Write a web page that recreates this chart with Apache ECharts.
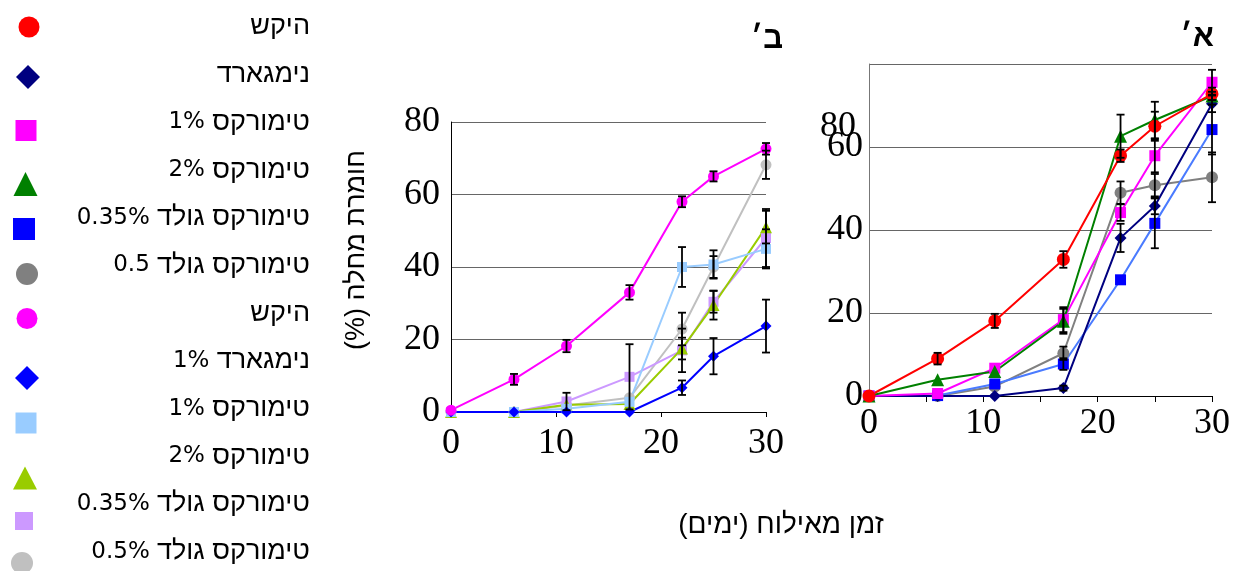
<!DOCTYPE html>
<html><head><meta charset="utf-8">
<script src="https://cdn.jsdelivr.net/npm/echarts@6/dist/echarts.min.js"></script>
<style>html,body{margin:0;padding:0;background:#fff}#c{width:1233px;height:571px}</style>
</head><body><div id="c"></div><script>
// ---------- DATA ----------
const days = [0, 6, 11, 17, 22, 25, 30];

// Chart א׳ (right)
const labelsA = ['היקש', 'נימגארד', 'טימורקס 1%', 'טימורקס 2%', 'טימורקס גולד 0.35%', 'טימורקס גולד 0.5'];
const aHekesh   = [0, 9, 18.1, 32.9, 57.9, 65, 72.8];
const aNimgard  = [0, 0, 0, 1.9, 38.1, 45.8, 70.4];
const aTimorex1 = [0, 0.6, 6.7, 18.4, 44.2, 57.9, 75.6];
const aTimorex2 = [0, 3.9, 5.9, 18, 62.6, 66.5, 72.3];
const aGold035  = [0, 0.1, 2.9, 7.7, 28, 41.6, 64.2];
const aGold05   = [0, 0, 2.3, 10.3, 49, 50.8, 52.7];
const aHekeshErr   = [0, 1.4, 1.7, 2, 1.5, 3.5, 1.5];
const aNimgardErr  = [0, 0, 0, 0.6, 3.4, 2, 2];
const aTimorex1Err = [0, 0, 0, 3, 2, 4, 3];
const aTimorex2Err = [0, 0, 0, 3, 5.2, 4.4, 1];
const aGold035Err  = [0, 0, 0, 1.4, 0, 6, 6];
const aGold05Err   = [0, 0, 0, 1.6, 2.7, 2.7, 6];

// Chart ב׳ (left)
const labelsB = ['היקש', 'נימגארד 1%', 'טימורקס 1%', 'טימורקס 2%', 'טימורקס גולד 0.35%', 'טימורקס גולד 0.5%'];
const bHekesh    = [0.5, 9, 18.2, 33, 58, 65, 72.6];
const bNimgard1  = [0, 0, 0, 0, 6.7, 15.4, 23.7];
const bTimorex1  = [0, 0, 0.9, 2.8, 40, 40.7, 45];
const bTimorex2  = [0, 0, 2, 2.2, 17.5, 29.5, 51];
const bGold035   = [0, 0, 2.9, 9.7, 17, 30.4, 48];
const bGold05    = [0, 0, 1.8, 3.9, 22.9, 40, 68.2];
const bHekeshErr   = [0, 1.5, 1.7, 2, 1.5, 1.4, 1.6];
const bNimgard1Err = [0, 0, 0, 0, 2, 5, 7.3];
const bTimorex1Err = [0, 0, 0, 0, 5.5, 3.9, 5.4];
const bTimorex2Err = [0, 0, 0, 0, 3, 4, 4.5];
const bGold035Err  = [0, 0, 2.4, 9, 6, 3, 8];
const bGold05Err   = [0, 0, 0, 0, 4.5, 3, 3.9];

const yTopLabelA = '80';

const axisTitleX = 'זמן מאילוח (ימים)';
const axisTitleY = 'חומרת מחלה (%)';
const titleA = 'א׳';
const titleB = 'ב׳';

// ---------- STYLE ----------
const valsA = [aHekesh, aNimgard, aTimorex1, aTimorex2, aGold035, aGold05];
const errsA = [aHekeshErr, aNimgardErr, aTimorex1Err, aTimorex2Err, aGold035Err, aGold05Err];
const valsB = [bHekesh, bNimgard1, bTimorex1, bTimorex2, bGold035, bGold05];
const errsB = [bHekeshErr, bNimgard1Err, bTimorex1Err, bTimorex2Err, bGold035Err, bGold05Err];

const markA = ['#FF0000', '#000080', '#FF00FF', '#008000', '#0000FF', '#808080'];
const lineA = ['#FF0000', '#000080', '#FF00FF', '#008000', '#4A7BFF', '#808080'];
const markB = ['#FF00FF', '#0000FF', '#99CCFF', '#99CC00', '#CC99FF', '#C0C0C0'];
const lineB = ['#FF00FF', '#0000FF', '#99CCFF', '#99CC00', '#CC99FF', '#C0C0C0'];
const symbols = ['circle', 'diamond', 'rect', 'triangle', 'rect', 'circle'];
const symSizeA = [13, 12, 11, 13, 11, 12];
const symSizeB = [11, 11, 10, 12, 10, 11];
const drawOrderA = [5, 4, 1, 2, 3, 0];
const drawOrderB = [5, 4, 3, 2, 1, 0];

const iconCenters = [[29,27],[28,77],[26,130.5],[25.5,184],[24,229],[27,274],[27,318.5],[27,378],[26,423],[25,478],[24,521],[22,563]];
const iconSizes = [[21,21],[24,24],[21,21],[24,24],[22,22],[22,22],[21,21],[24,24],[21,21],[24,23],[18,18],[22,22]];

const RLE = '\u202B', PDF = '\u202C';
const rtl = s => RLE + s + PDF;
const serif = '"Liberation Serif", "Times New Roman", serif';
const digitFont = '"DejaVu Sans", sans-serif';
const hebFont = '"Liberation Sans", "DejaVu Sans", sans-serif';

const ids = [], labelMap = {}, iconMap = {};
labelsA.forEach((l, i) => { const id = 'a' + i; ids.push(id); labelMap[id] = l; iconMap[id] = symbols[i]; });
labelsB.forEach((l, i) => { const id = 'b' + i; ids.push(id); labelMap[id] = l; iconMap[id] = symbols[i]; });

function legendRich(label) {
  const m = label.match(/^(.*?)\s+([\d.]+%?)$/);
  if (!m) return '{h|' + rtl(label) + '}';
  return '{n|' + m[2] + '}{s| }{h|' + rtl(m[1]) + '}';
}

const series = [];
function addLines(prefix, vals, marks, lines, sizes, order, gi) {
  order.forEach(i => {
    series.push({
      name: prefix + i, type: 'line', xAxisIndex: gi, yAxisIndex: gi,
      data: days.map((d, k) => [d, vals[i][k]]),
      symbol: symbols[i], symbolSize: sizes[i], showSymbol: true, clip: false,
      itemStyle: { color: marks[i], borderWidth: 0 },
      lineStyle: { color: lines[i], width: 2 },
      z: 2, silent: true, animation: false
    });
  });
}
addLines('a', valsA, markA, lineA, symSizeA, drawOrderA, 1);
addLines('b', valsB, markB, lineB, symSizeB, drawOrderB, 0);

function errData(vals, errs) {
  const out = [];
  vals.forEach((v, i) => days.forEach((d, k) => {
    if (errs[i][k] > 0) out.push([d, v[k] - errs[i][k], v[k] + errs[i][k]]);
  }));
  return out;
}
function renderErr(params, api) {
  const x = api.value(0);
  const p1 = api.coord([x, api.value(2)]);
  const p2 = api.coord([x, api.value(1)]);
  const c = 4, st = { stroke: '#000', lineWidth: 1.8 };
  return { type: 'group', children: [
    { type: 'line', shape: { x1: p1[0], y1: p1[1], x2: p2[0], y2: p2[1] }, style: st },
    { type: 'line', shape: { x1: p1[0] - c, y1: p1[1], x2: p1[0] + c, y2: p1[1] }, style: st },
    { type: 'line', shape: { x1: p2[0] - c, y1: p2[1], x2: p2[0] + c, y2: p2[1] }, style: st }
  ]};
}
series.push({ type: 'custom', xAxisIndex: 1, yAxisIndex: 1, renderItem: renderErr, data: errData(valsA, errsA), encode: { x: 0, y: [1, 2] }, z: 4, silent: true, animation: false });
series.push({ type: 'custom', xAxisIndex: 0, yAxisIndex: 0, renderItem: renderErr, data: errData(valsB, errsB), encode: { x: 0, y: [1, 2] }, z: 4, silent: true, animation: false });

const legends = [{
  orient: 'vertical', align: 'right', right: 918, top: 12, height: 900, padding: 0,
  itemWidth: 0, itemHeight: 30, itemGap: 17.7, selectedMode: false,
  icon: 'rect', itemStyle: { opacity: 0, borderWidth: 0, color: 'rgba(0,0,0,0)' },
  data: ids, formatter: id => legendRich(labelMap[id]),
  textStyle: { fontFamily: hebFont, fontSize: 27, color: '#000',
    rich: {
      n: { fontFamily: digitFont, fontSize: 23, color: '#000' },
      s: { fontFamily: digitFont, fontSize: 23, color: '#000' },
      h: { fontFamily: hebFont, fontSize: 27, color: '#000' }
    } }
}];
ids.forEach((id, i) => {
  const [cx, cy] = iconCenters[i], [w, h] = iconSizes[i];
  legends.push({
    left: cx - w / 2, top: cy - h / 2, padding: 0, itemWidth: w, itemHeight: h,
    selectedMode: false, data: [{ name: id, icon: iconMap[id] }],
    formatter: () => '', itemStyle: { borderWidth: 0 }, textStyle: { fontSize: 1 }
  });
});

const numLabel = { fontFamily: serif, fontSize: 36, color: '#000' };

const option = {
  animation: false,
  backgroundColor: '#fff',
  grid: [
    { left: 451, top: 122, width: 315, height: 290 },
    { left: 869, top: 64, width: 345, height: 332 }
  ],
  xAxis: [
    { type: 'value', gridIndex: 0, min: 0, max: 30, interval: 10,
      axisLine: { show: true, lineStyle: { color: '#000', width: 1 } },
      axisTick: { show: true, length: 5, lineStyle: { color: '#000' } },
      splitLine: { show: false },
      axisLabel: Object.assign({ margin: 14 }, numLabel) },
    { type: 'value', gridIndex: 1, min: 0, max: 30, interval: 5,
      axisLine: { show: true, lineStyle: { color: '#000', width: 1 } },
      axisTick: { show: true, length: 6, lineStyle: { color: '#000' } },
      splitLine: { show: false },
      axisLabel: Object.assign({ margin: 10, formatter: v => (v % 10 === 0 ? String(v) : '') }, numLabel) }
  ],
  yAxis: [
    { type: 'value', gridIndex: 0, min: 0, max: 80, interval: 20,
      axisLine: { show: true, lineStyle: { color: '#000', width: 1 } },
      axisTick: { show: false },
      splitLine: { show: true, lineStyle: { color: '#666', width: 1 } },
      axisLabel: Object.assign({ margin: 11 }, numLabel) },
    { type: 'value', gridIndex: 1, min: 0, max: 80, interval: 20,
      axisLine: { show: true, lineStyle: { color: '#777', width: 1 } },
      axisTick: { show: false },
      splitLine: { show: true, lineStyle: { color: '#666', width: 1 } },
      axisLabel: Object.assign({ margin: 6, formatter: v => (v === 80 ? '' : String(v)) }, numLabel) }
  ],
  legend: legends,
  graphic: [
    { type: 'text', x: 767, y: 39, style: { text: rtl(titleB), font: 'bold 31px "Liberation Sans", "DejaVu Sans", sans-serif', fill: '#000', align: 'center', verticalAlign: 'middle' } },
    { type: 'text', x: 1197, y: 37, style: { text: rtl(titleA), font: 'bold 31px "Liberation Sans", "DejaVu Sans", sans-serif', fill: '#000', align: 'center', verticalAlign: 'middle' } },
    { type: 'text', x: 856, y: 127, style: { text: yTopLabelA, font: '36px ' + serif, fill: '#000', align: 'right', verticalAlign: 'middle' } },
    { type: 'text', x: 781, y: 525, style: { text: rtl(axisTitleX), font: '28px ' + hebFont, fill: '#000', align: 'center', verticalAlign: 'middle' } },
    { type: 'text', x: 357, y: 250, rotation: Math.PI / 2, style: { text: rtl(axisTitleY), font: '27px ' + hebFont, fill: '#000', align: 'center', verticalAlign: 'middle' } }
  ],
  series: series
};
const chart = echarts.init(document.getElementById('c'), null, { renderer: 'canvas' });
chart.setOption(option);
</script></body></html>
